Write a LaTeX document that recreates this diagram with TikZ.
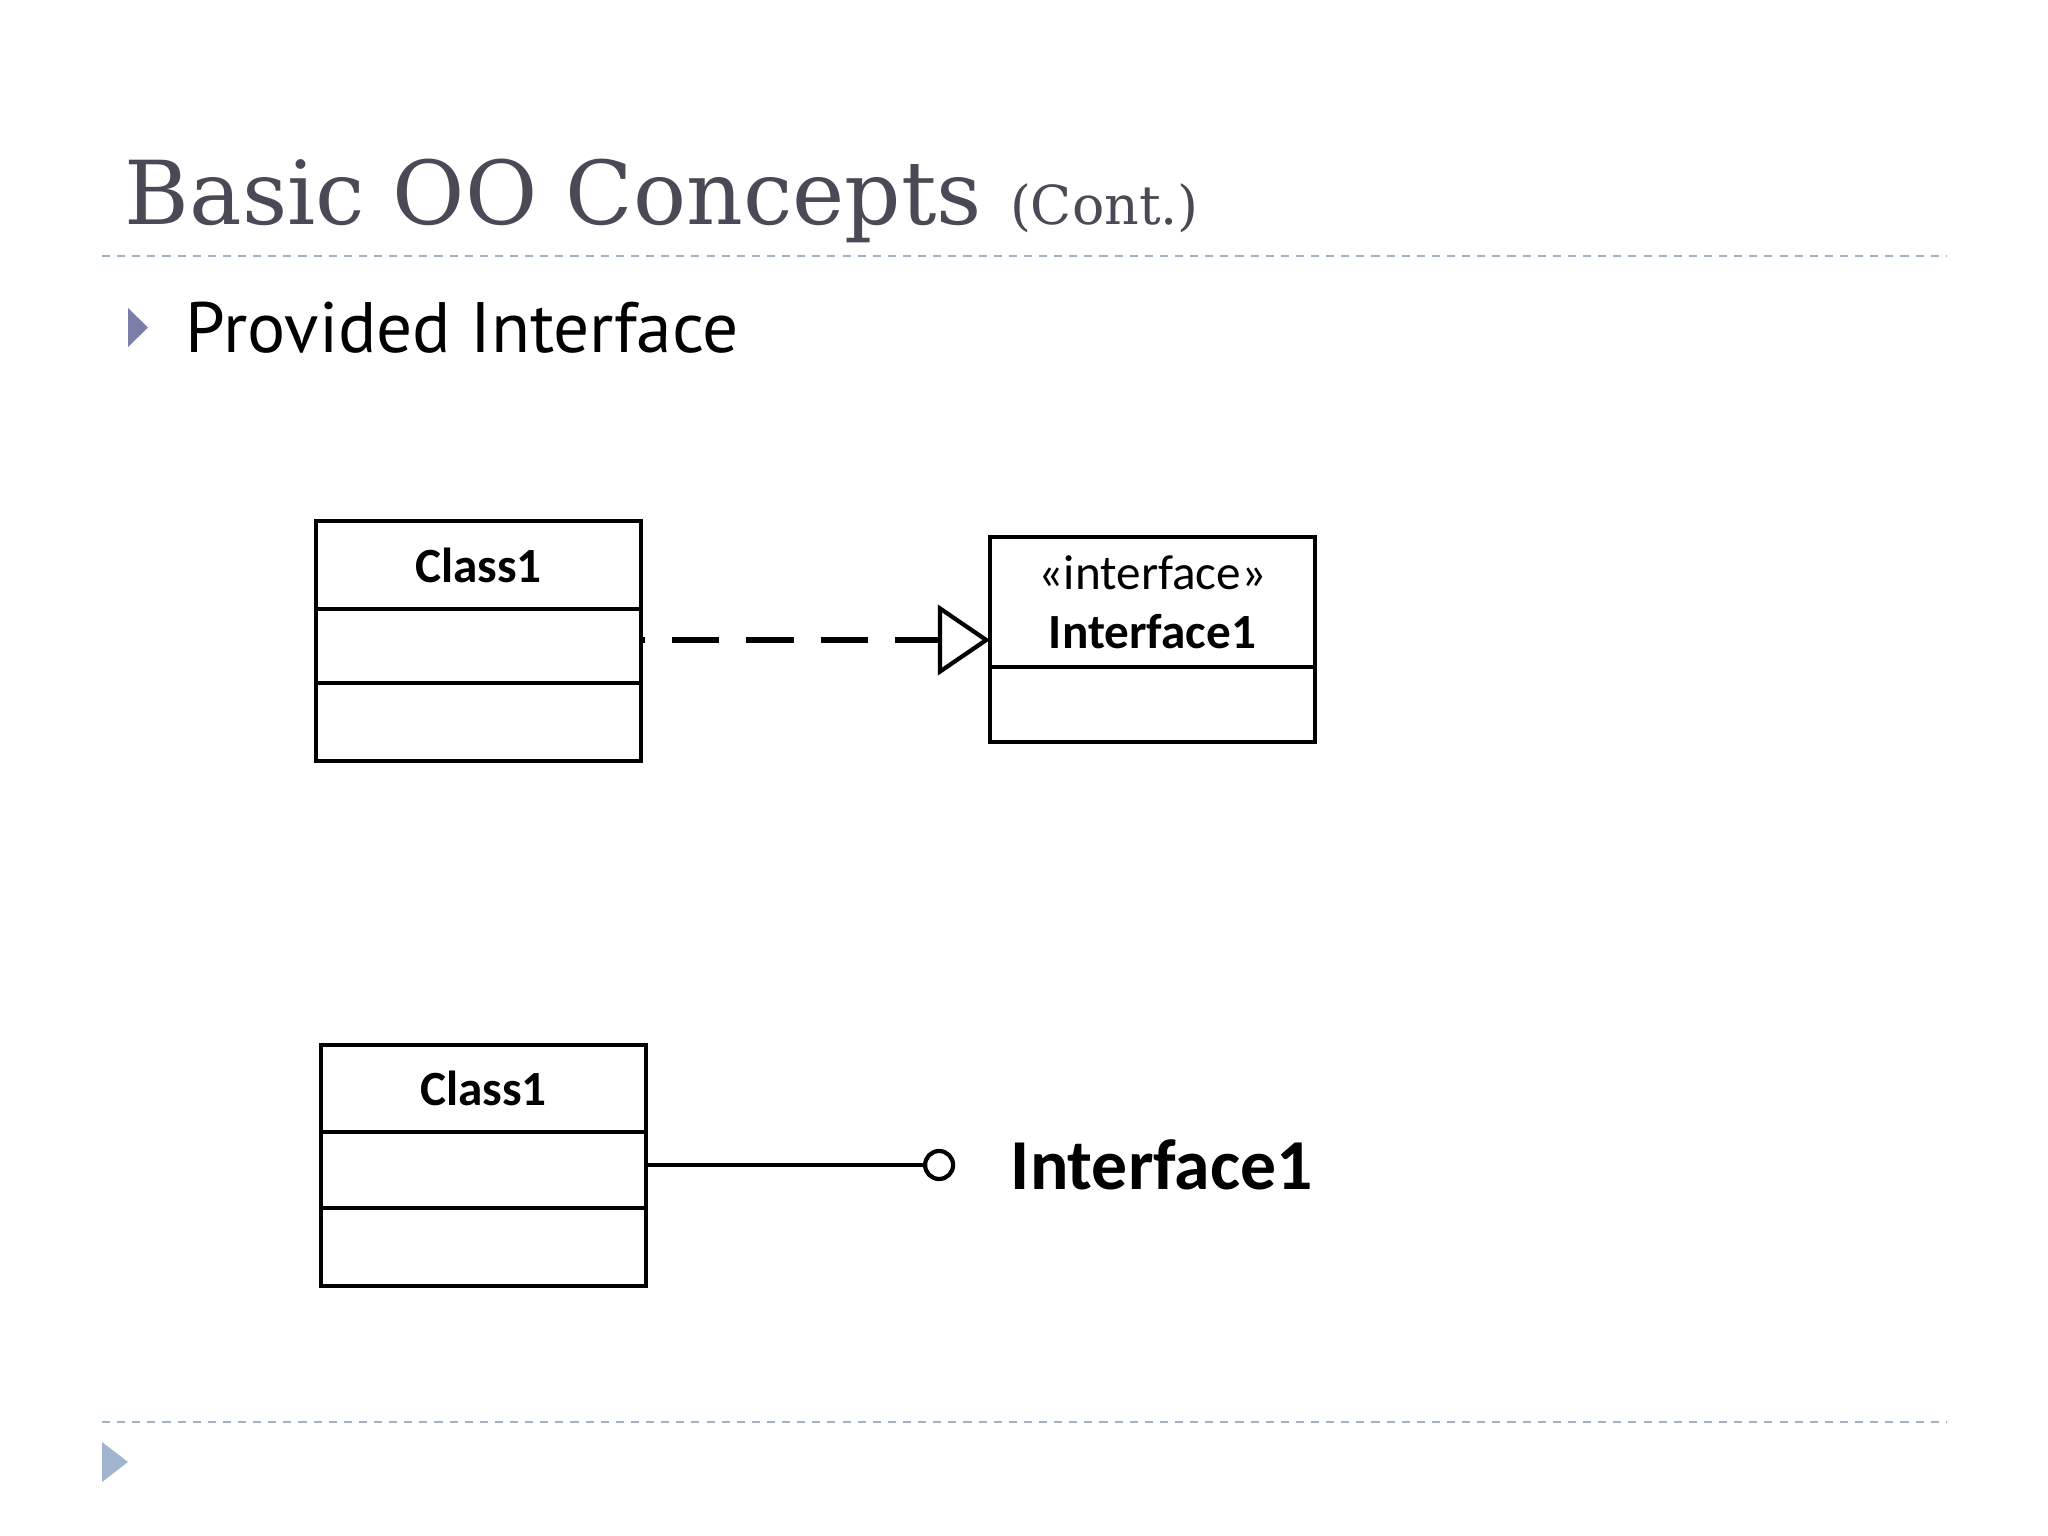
\documentclass[tikz,border=0pt]{standalone}
\usepackage{fontspec}
\usepackage{tikz}
\usetikzlibrary{arrows.meta, positioning}
\newfontfamily\titlefont{DejaVu Serif}
\newfontfamily\bodyfont{PT Sans}
\newfontfamily\umlfont{Carlito}
\definecolor{titlegray}{RGB}{74,74,86}
\definecolor{rulecolor}{RGB}{160,178,196}
\definecolor{bulletcolor}{RGB}{122,126,168}
\definecolor{footcolor}{RGB}{158,180,207}

\begin{document}
\begin{tikzpicture}[
  box/.style={draw, line width=1.2pt, minimum width=3.25cm, inner sep=0pt, outer sep=0pt, font=\umlfont\fontsize{14}{16.8}\selectfont},
  realize/.style={line width=1.5pt, dash pattern=on 13.4pt off 7.7pt, dash phase=12.2pt, -{Triangle[open, length=14.8pt, width=19.9pt, line width=1.2pt]}},
  lollipop/.style={circle, draw, line width=1.2pt, minimum size=0.28cm, inner sep=0pt},
  wire/.style={line width=1.3pt},
  rule/.style={rulecolor, line width=0.6pt, dash pattern=on 2.3pt off 2pt}
]
\useasboundingbox (0,0) rectangle (20.48,-15.36);

% Slide frame
\node[anchor=base west, inner sep=0pt, text=titlegray, font=\titlefont\fontsize{25.1}{30}\selectfont] (T) at (1.24,-2.25) {Basic OO Concepts \fontsize{15.3}{18}\selectfont(Cont.)};
\draw[rule] (1.02,-2.56) -- (19.46,-2.56);
\fill[bulletcolor] (1.28,-3.08) -- (1.48,-3.275) -- (1.28,-3.47) -- cycle;
\node[anchor=base west, inner sep=0pt, font=\bodyfont\fontsize{20.3}{24}\selectfont] (P) at (1.85,-3.53) {Provided Interface};
\draw[rule] (1.02,-14.22) -- (19.46,-14.22);
\fill[footcolor] (1.02,-14.42) -- (1.28,-14.62) -- (1.02,-14.82) -- cycle;

% Realization
\node[box, minimum height=0.88cm, anchor=north west] (C1) at (3.16,-5.21) {\bfseries Class1};
\node[box, minimum height=0.74cm, below=0pt of C1] (C1A) {};
\node[box, minimum height=0.78cm, below=0pt of C1A] (C1O) {};
\node[box, minimum height=1.30cm, anchor=north west, align=center] (I1) at (9.90,-5.37) {«interface»\\\textbf{Interface1}};
\node[box, minimum height=0.75cm, below=0pt of I1] (I1O) {};
\draw[realize] ([yshift=0.06cm]C1A.east) -- ([yshift=0.06cm]C1A.east -| I1.west);

% Lollipop
\node[box, minimum height=0.87cm, anchor=north west] (C2) at (3.21,-10.45) {\bfseries Class1};
\node[box, minimum height=0.76cm, below=0pt of C2] (C2A) {};
\node[box, minimum height=0.78cm, below=0pt of C2A] (C2O) {};
\node[lollipop, right=2.77cm of C2A, yshift=0.05cm] (L2) {};
\draw[wire] (C2A.east |- L2) -- (L2);
\node[right=0.55cm of L2, inner sep=0pt, font=\umlfont\bfseries\fontsize{20.4}{24}\selectfont] (IL2) {Interface1};

\end{tikzpicture}
\end{document}
